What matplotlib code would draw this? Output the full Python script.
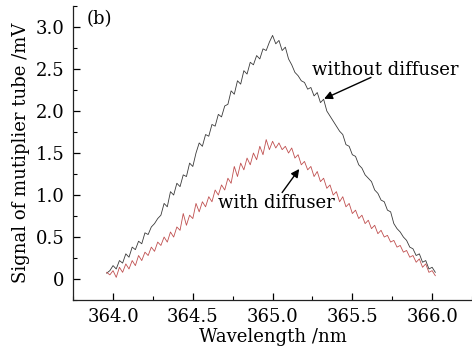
import numpy as np
import matplotlib
matplotlib.use('Agg')
import matplotlib.pyplot as plt
from matplotlib.ticker import MultipleLocator, FixedLocator, FixedFormatter

plt.rcParams['font.family'] = 'DejaVu Serif'
plt.rcParams['font.size'] = 13

without_diffuser = [
    0.07, 0.10, 0.16, 0.12, 0.22, 0.19, 0.30, 0.26, 0.38, 0.35,
    0.45, 0.42, 0.55, 0.53, 0.62, 0.66, 0.72, 0.76, 0.90, 0.86,
    1.04, 1.00, 1.14, 1.10, 1.24, 1.22, 1.38, 1.34, 1.50, 1.62,
    1.58, 1.72, 1.70, 1.84, 1.82, 1.96, 1.93, 2.06, 2.08, 2.24,
    2.20, 2.36, 2.32, 2.48, 2.44, 2.58, 2.55, 2.66, 2.62, 2.74,
    2.72, 2.82, 2.90, 2.80, 2.84, 2.72, 2.76, 2.62, 2.55, 2.46,
    2.42, 2.36, 2.34, 2.26, 2.28, 2.18, 2.22, 2.10, 2.14, 2.00,
    1.94, 1.88, 1.82, 1.76, 1.72, 1.60, 1.58, 1.48, 1.46, 1.36,
    1.32, 1.24, 1.20, 1.16, 1.06, 1.02, 0.94, 0.92, 0.82, 0.80,
    0.66, 0.60, 0.56, 0.50, 0.46, 0.38, 0.36, 0.28, 0.30, 0.20,
    0.22, 0.12, 0.14, 0.08,
]
with_diffuser = [
    0.08, 0.05, 0.10, 0.02, 0.14, 0.08, 0.18, 0.12, 0.22, 0.16,
    0.28, 0.22, 0.32, 0.28, 0.38, 0.33, 0.44, 0.40, 0.50, 0.44,
    0.56, 0.50, 0.62, 0.58, 0.78, 0.64, 0.76, 0.72, 0.90, 0.80,
    0.92, 0.86, 0.98, 0.92, 1.06, 1.00, 1.12, 1.06, 1.20, 1.14,
    1.34, 1.22, 1.38, 1.30, 1.44, 1.36, 1.50, 1.42, 1.58, 1.48,
    1.66, 1.54, 1.64, 1.56, 1.62, 1.54, 1.58, 1.50, 1.56, 1.44,
    1.48, 1.36, 1.40, 1.30, 1.34, 1.22, 1.28, 1.16, 1.20, 1.08,
    1.12, 1.00, 1.04, 0.92, 0.98, 0.86, 0.90, 0.78, 0.82, 0.72,
    0.76, 0.66, 0.70, 0.60, 0.64, 0.54, 0.58, 0.50, 0.52, 0.44,
    0.46, 0.38, 0.40, 0.32, 0.34, 0.26, 0.28, 0.20, 0.24, 0.14,
    0.18, 0.08, 0.10, 0.04,
]
wl_start, wl_stop = 363.96, 366.02

y_ticks = [0, 0.5, 1.0, 1.5, 2.0, 2.5, 3.0]
y_labels = ['0', '0.5', '1.0', '1.5', '2.0', '2.5', '3.0']
x_ticks = [364.0, 364.5, 365.0, 365.5, 366.0]
x_labels = ['364.0', '364.5', '365.0', '365.5', '366.0']

wl_black = np.linspace(wl_start, wl_stop, len(without_diffuser))
wl_red = np.linspace(wl_start, wl_stop, len(with_diffuser))

fig = plt.figure(figsize=(4.72, 3.53), dpi=100)
ax = fig.add_axes([0.155, 0.150, 0.845, 0.833])

ax.plot(wl_black, without_diffuser, color='#3a3a3a', lw=0.6)
ax.plot(wl_red, with_diffuser, color='#c05050', lw=0.6)

ax.set_xlim(363.75, 366.25)
ax.set_ylim(-0.25, 3.25)

for s in ['top', 'right']:
    ax.spines[s].set_visible(False)
for s in ['left', 'bottom']:
    ax.spines[s].set_linewidth(0.9)
    ax.spines[s].set_color('#222222')

ax.yaxis.set_major_locator(FixedLocator(y_ticks))
ax.yaxis.set_major_formatter(FixedFormatter(y_labels))
ax.xaxis.set_major_locator(FixedLocator(x_ticks))
ax.xaxis.set_major_formatter(FixedFormatter(x_labels))
ax.yaxis.set_minor_locator(MultipleLocator(0.25))
ax.xaxis.set_minor_locator(MultipleLocator(0.25))
ax.tick_params(which='major', direction='in', length=5, width=0.9, labelsize=13, pad=6)
ax.tick_params(which='minor', direction='in', length=3, width=0.8)

ax.set_xlabel('Wavelength /nm', fontsize=13, labelpad=1)
ax.set_ylabel('Signal of mutiplier tube /mV', fontsize=13, labelpad=4)

ax.text(0.035, 0.985, '(b)', transform=ax.transAxes, fontsize=13, va='top')

arrow = dict(arrowstyle='-|>', color='black', lw=1.0, mutation_scale=12,
             shrinkA=0, shrinkB=0)
ax.text(365.245, 2.49, 'without diffuser', fontsize=13, ha='left', va='center')
ax.annotate('', xy=(365.323, 2.146), xytext=(365.617, 2.40), arrowprops=arrow)
ax.text(364.655, 0.91, 'with diffuser', fontsize=13, ha='left', va='center')
ax.annotate('', xy=(365.167, 1.31), xytext=(365.06, 1.03), arrowprops=arrow)

plt.savefig('out.png', dpi=100)
